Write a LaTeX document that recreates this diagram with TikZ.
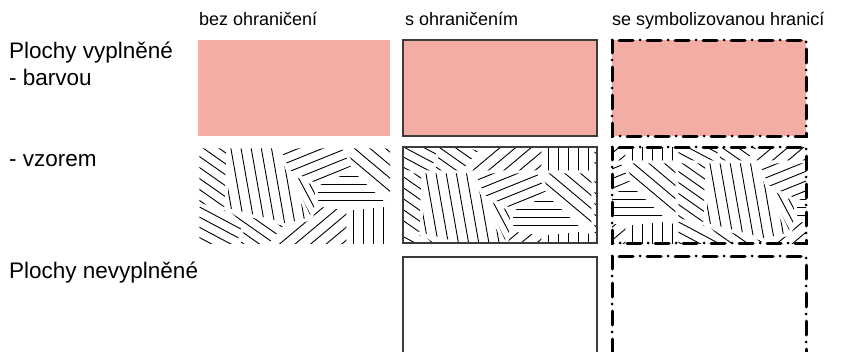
\documentclass[tikz,border=0pt]{standalone}
\usepackage{fontspec}
\setmainfont{Liberation Sans}
\usetikzlibrary{calc}
\definecolor{salmon}{RGB}{244,173,165}
\definecolor{frame}{RGB}{60,60,60}
\tikzset{
  cell/.style={anchor=north west, inner sep=0pt, outer sep=0pt, minimum width=#1, minimum height=96pt},
  cell/.default=194pt,
  hatchline/.style={line width=0.9pt, black},
  sepline/.style={line width=2.8pt, white},
  thinframe/.style={line width=1.1pt, frame},
  dashdot/.style={line width=3pt, line cap=round, black, dash pattern=on 14pt off 7pt on 0pt off 7pt, dash phase=21pt},
  lab/.style={anchor=base west, inner sep=0pt, font=\fontsize{22.5pt}{26pt}\selectfont},
  hdr/.style={anchor=base west, inner sep=0pt, font=\fontsize{18pt}{22pt}\selectfont}
}
\newcommand\hreg[4]{%
  \begin{scope}
    \clip #1--cycle;
    \begin{scope}[shift={#4},rotate=#2]
      \foreach \k in {-14,...,14} \draw[hatchline] (-150,\k*#3) -- (150,\k*#3);
    \end{scope}
  \end{scope}}
\newcommand\hsep[4]{\draw[sepline] #1--cycle;}
\newcommand\tileregions[1]{%
  #1{(0,0)--(30,0)--(28,62)--(0,58)}{-35}{9}{(15,30)}%
  #1{(30,0)--(80,0)--(90,24)--(112,72)--(88,78)--(28,62)}{-80}{10}{(60,40)}%
  #1{(80,0)--(145,0)--(155,20)--(118,38)--(90,24)}{22}{9}{(115,15)}%
  #1{(90,24)--(118,38)--(119,58)--(112,72)}{-62}{7}{(108,45)}%
  #1{(155,22)--(192,58)--(119,58)--(118,38)}{0}{8}{(155,45)}%
  #1{(145,0)--(200,0)--(200,62)--(192,58)--(155,20)}{-40}{10}{(175,30)}%
  #1{(0,58)--(28,62)--(45,80)--(40,100)--(0,100)}{-28}{9}{(20,80)}%
  #1{(28,62)--(88,78)--(70,100)--(40,100)--(45,80)}{-35}{9}{(60,85)}%
  #1{(88,78)--(112,72)--(119,58)--(150,62)--(150,100)--(70,100)}{40}{10}{(115,82)}%
  #1{(150,62)--(192,58)--(200,62)--(200,100)--(150,100)}{90}{10}{(175,80)}%
}
\newcommand\hatchbox[3]{%
  \begin{scope}
    \clip (#1.north west) rectangle (#1.south east);
    \foreach \i in {0,1}{\foreach \j in {0,1}{
      \begin{scope}[shift={($(#1.north west)+(\i*200-#2,\j*100-#3)$)}]
        \tileregions\hreg
        \tileregions\hsep
      \end{scope}}}
  \end{scope}}
\begin{document}
\begin{tikzpicture}[x=1pt,y=-1pt]
  \fill[white] (0,0) rectangle (852,351);
  \clip (0,0) rectangle (852,351);
  % headers
  \node[hdr] (h1) at (199,25) {bez ohraničení};
  \node[hdr] (h2) at (405,25) {s ohraničením};
  \node[hdr] (h3) at (612,25) {se symbolizovanou hranicí};
  % row labels
  \node[lab] (l1) at (9,58) {Plochy vyplněné};
  \node[lab] (l2) at (9,85) {- barvou};
  \node[lab] (l3) at (9,166) {- vzorem};
  \node[lab] (l4) at (9,278) {Plochy nevyplněné};
  % row 1
  \node[cell=192pt, fill=salmon] (b11) at (198,40) {};
  \node[cell, fill=salmon] (b12) at (403,40) {};
  \node[cell, fill=salmon] (b13) at (612,40) {};
  \draw[thinframe] (b12.north west) rectangle (b12.south east);
  \draw[dashdot] (b13.north west) -- (b13.north east) -- (b13.south east) -- (b13.south west) -- cycle;
  % row 2
  \node[cell=192pt] (b21) at (198,147) {};
  \node[cell] (b22) at (403,147) {};
  \node[cell] (b23) at (612,147) {};
  \hatchbox{b21}{0}{0}
  \hatchbox{b22}{10}{75}
  \hatchbox{b23}{135}{85}
  \draw[thinframe] (b22.north west) rectangle (b22.south east);
  \draw[dashdot] (b23.north west) -- (b23.north east) -- (b23.south east) -- (b23.south west) -- cycle;
  % row 3
  \node[cell, minimum height=110pt] (b32) at (403,257) {};
  \node[cell, minimum height=110pt] (b33) at (612,256) {};
  \draw[thinframe] (b32.north west) rectangle (b32.south east);
  \draw[dashdot] (b33.north west) -- (b33.north east) -- (b33.south east) -- (b33.south west) -- cycle;
\end{tikzpicture}
\end{document}
